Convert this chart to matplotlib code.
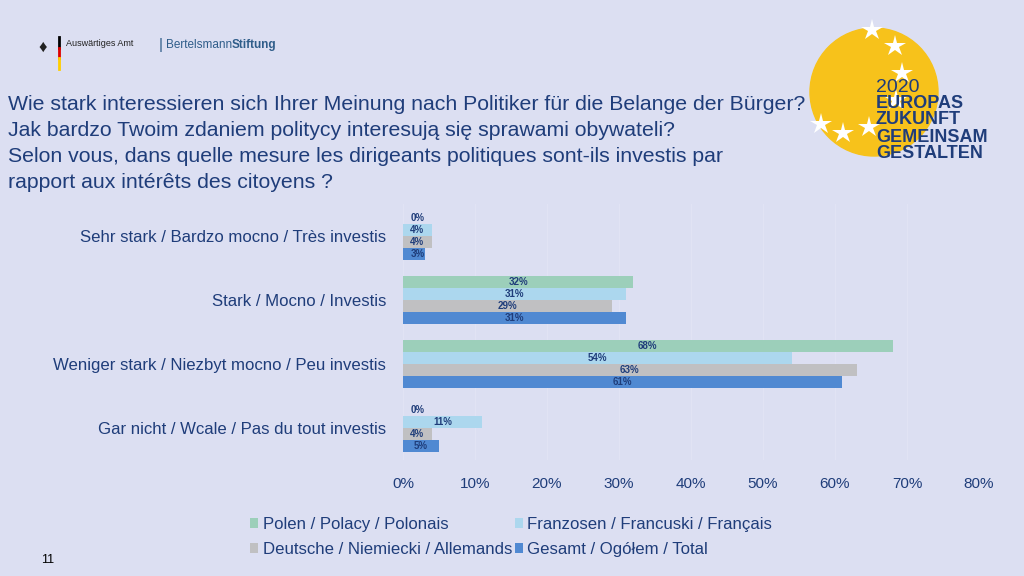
import matplotlib
matplotlib.use("Agg")
import matplotlib.pyplot as plt
import numpy as np
from matplotlib.patches import Circle

plt.rcParams['font.family'] = ['Liberation Sans', 'DejaVu Sans']

# Daten
categories = ["Sehr stark / Bardzo mocno / Très investis",
              "Stark / Mocno / Investis",
              "Weniger stark / Niezbyt mocno / Peu investis",
              "Gar nicht / Wcale / Pas du tout investis"]
series_names = ["Polen / Polacy / Polonais",
                "Franzosen / Francuski / Français",
                "Deutsche / Niemiecki / Allemands",
                "Gesamt / Ogółem / Total"]
polen = [0, 32, 68, 0]
franzosen = [4, 31, 54, 11]
deutsche = [4, 29, 63, 4]
gesamt = [3, 31, 61, 5]
xticks = [0, 10, 20, 30, 40, 50, 60, 70, 80]
title_lines = ["Wie stark interessieren sich Ihrer Meinung nach Politiker für die Belange der Bürger?",
               "Jak bardzo Twoim zdaniem politycy interesują się sprawami obywateli?",
               "Selon vous, dans quelle mesure les dirigeants politiques sont-ils investis par",
               "rapport aux intérêts des citoyens ?"]

colors = ["#9ccfba", "#acd7ee", "#c0c0c2", "#5089d2"]
bg = "#dcdff2"
navy = "#1f3d7a"

fig = plt.figure(figsize=(10.24, 5.76), dpi=100, facecolor=bg)

# Hintergrund-Achse in Pixelkoordinaten fuer Logos und Titel
bgax = fig.add_axes([0, 0, 1, 1], zorder=0)
bgax.set_xlim(0, 1024)
bgax.set_ylim(576, 0)
bgax.axis('off')

# Diagramm
ax = fig.add_axes([403/1024, 1-460/576, 576/1024, 256/576], zorder=1)
ax.patch.set_alpha(0)
h = 12/64
y = np.arange(len(categories))
data = [polen, franzosen, deutsche, gesamt]
for k, vals in enumerate(data):
    pos = y + (k - 1.5) * h
    ax.barh(pos, vals, height=h, color=colors[k], label=series_names[k], zorder=2)
    for p, v in zip(pos, vals):
        ax.text(max(v, 4)/2, p, f"{v}%", ha='center', va='center',
                fontsize=7, fontweight='bold', color=navy, zorder=3)

ax.set_xlim(0, 80)
ax.set_ylim(3.5, -0.5)
ax.set_xticks(xticks)
ax.set_xticklabels([f"{t}%" for t in xticks])
ax.set_yticks(y)
ax.set_yticklabels(categories)
ax.tick_params(axis='both', length=0, labelsize=11, labelcolor=navy)
ax.tick_params(axis='y', labelsize=12.1, pad=12)
ax.tick_params(axis='x', pad=12)
ax.grid(axis='x', color='#e1e3f4', linewidth=0.8, zorder=0)
for s in ax.spines.values():
    s.set_visible(False)

# Legende
hs, ls = ax.get_legend_handles_labels()
order = [0, 2, 1, 3]
fig.legend([hs[i] for i in order], [ls[i] for i in order], ncol=2,
           loc='center left', bbox_to_anchor=(250/1024, 1-537/576),
           frameon=False, fontsize=12.1, handlelength=0.5, handleheight=0.5,
           handletextpad=0.25, columnspacing=0.15, labelspacing=0.6,
           borderpad=0, borderaxespad=0, labelcolor=navy)

# Titel
for i, line in enumerate(title_lines):
    bgax.text(8, 105 + 26*i, line, fontsize=15.35, color=navy, va='center')

# Logos oben links
bgax.plot([59, 59], [37, 48], color='black', lw=2)
bgax.plot([59, 59], [48, 58], color='#dd0000', lw=2)
bgax.plot([59, 59], [58, 69], color='#ffce00', lw=2)
bgax.text(43, 47, "♦", fontsize=12, color='#222222', ha='center', va='center')
bgax.text(66, 44, "Auswärtiges Amt", fontsize=6.5, color='#222222', va='center')
bgax.text(159, 45, "|", fontsize=11, color='#2f5d8a', va='center')
t_b = bgax.text(166, 45, "Bertelsmann", fontsize=8.5, color='#2f5d8a', va='center')
bgax.annotate("Stiftung", xy=(1, 0.5), xycoords=t_b, va='center', ha='left',
              fontsize=8.5, color='#2f5d8a', fontweight='bold')

# EU Logo oben rechts
bgax.add_patch(Circle((874, 92), 64, color='#f7c21b', zorder=0))
star_x = [872, 895, 902, 896, 869, 843, 821]
star_y = [30, 46, 73, 100, 127, 133, 124]
bgax.plot(star_x, star_y, linestyle='none', marker='*', markersize=16,
          color='white', markeredgewidth=0, zorder=1)
bgax.text(876, 87, "2020", fontsize=14, color=navy, va='center', zorder=2)
for i, w in enumerate(["EUROPAS", "ZUKUNFT", "GEMEINSAM", "GESTALTEN"]):
    bgax.text(876, 103 + 17*i, w, fontsize=13, color=navy, va='center', fontweight='bold', zorder=2)

bgax.text(48, 560, "11", fontsize=9, color='black', ha='center', va='center')

fig.savefig("out.png", dpi=100, facecolor=bg)
